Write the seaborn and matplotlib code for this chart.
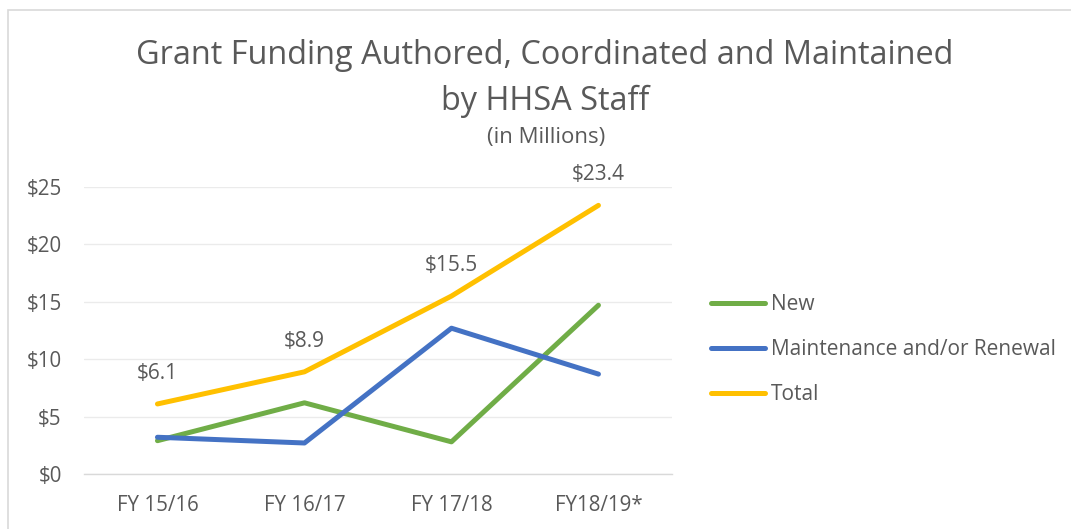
import numpy as np
import pandas as pd
import seaborn as sns
import matplotlib.pyplot as plt
from matplotlib.patches import Rectangle

# 데이터
years = ['FY 15/16', 'FY 16/17', 'FY 17/18', 'FY18/19*']
new_vals = [2.9, 6.2, 2.8, 14.7]
maint_vals = [3.2, 2.7, 12.7, 8.7]
total_vals = [6.1, 8.9, 15.5, 23.4]
series_names = ['New', 'Maintenance and/or Renewal', 'Total']
colors = ['#70AD47', '#4472C4', '#FFC000']

df = pd.DataFrame({
    'year': years * 3,
    'pos': list(range(len(years))) * 3,
    'value': new_vals + maint_vals + total_vals,
    'series': [series_names[0]] * 4 + [series_names[1]] * 4 + [series_names[2]] * 4,
})

sns.set_style('white')
plt.rcParams['font.family'] = ['Open Sans', 'DejaVu Sans']
txt = '#595959'

fig = plt.figure(figsize=(10.71, 5.29), dpi=100)
ax = fig.add_axes([0.0784, 0.104, 0.549, 0.5425])

sns.lineplot(data=df, x='pos', y='value', hue='series', hue_order=series_names,
             palette=colors, linewidth=3.6, ax=ax, legend=True)
for ln in ax.lines:
    ln.set_solid_capstyle('round')

ax.set_xlim(-0.5, 3.5)
ax.set_ylim(0, 25)
ax.set_xticks(range(len(years)))
ax.set_xticklabels(years)
ax.set_yticks([0, 5, 10, 15, 20, 25])
ax.set_yticklabels(['$0', '$5', '$10', '$15', '$20', '$25'])
ax.tick_params(axis='both', length=0, labelsize=14.8, colors=txt)
ax.tick_params(axis='x', pad=15)
ax.tick_params(axis='y', pad=16)
ax.set_xlabel('')
ax.set_ylabel('')
ax.yaxis.grid(True, color='#EBEBEB', linewidth=1)
ax.set_axisbelow(True)
for s in ['top', 'right', 'left']:
    ax.spines[s].set_visible(False)
ax.spines['bottom'].set_color('#D9D9D9')
ax.spines['bottom'].set_linewidth(1)

# Total 데이터 라벨
for i, v in enumerate(total_vals):
    ax.annotate(f'${v}', (i, v), xytext=(0, 22), textcoords='offset points',
                ha='center', va='center', fontsize=15, color=txt)

# 범례
handles, labels = ax.get_legend_handles_labels()
leg = ax.legend(handles, labels, loc='center left', bbox_to_anchor=(1.066, 0.433),
                frameon=False, fontsize=15, labelcolor=txt, handlelength=2.6,
                handletextpad=0.3, labelspacing=1.16, borderpad=0, borderaxespad=0)
for h in leg.get_lines():
    h.set_linewidth(3.6)
    h.set_solid_capstyle('round')

# 제목
fig.text(0.509, 0.896, 'Grant Funding Authored, Coordinated and Maintained',
         ha='center', va='center', fontsize=23.4, color=txt)
fig.text(0.509, 0.808, 'by HHSA Staff', ha='center', va='center', fontsize=23.4, color=txt)
fig.text(0.510, 0.741, '(in Millions)', ha='center', va='center', fontsize=16, color=txt)

# 차트 테두리
fig.patches.append(Rectangle((8 / 1071, -0.1), 1.2, 1 - 10 / 529 + 0.1,
                             transform=fig.transFigure, fill=False,
                             edgecolor='#D9D9D9', linewidth=1.2))

fig.savefig('out.png', dpi=100)
